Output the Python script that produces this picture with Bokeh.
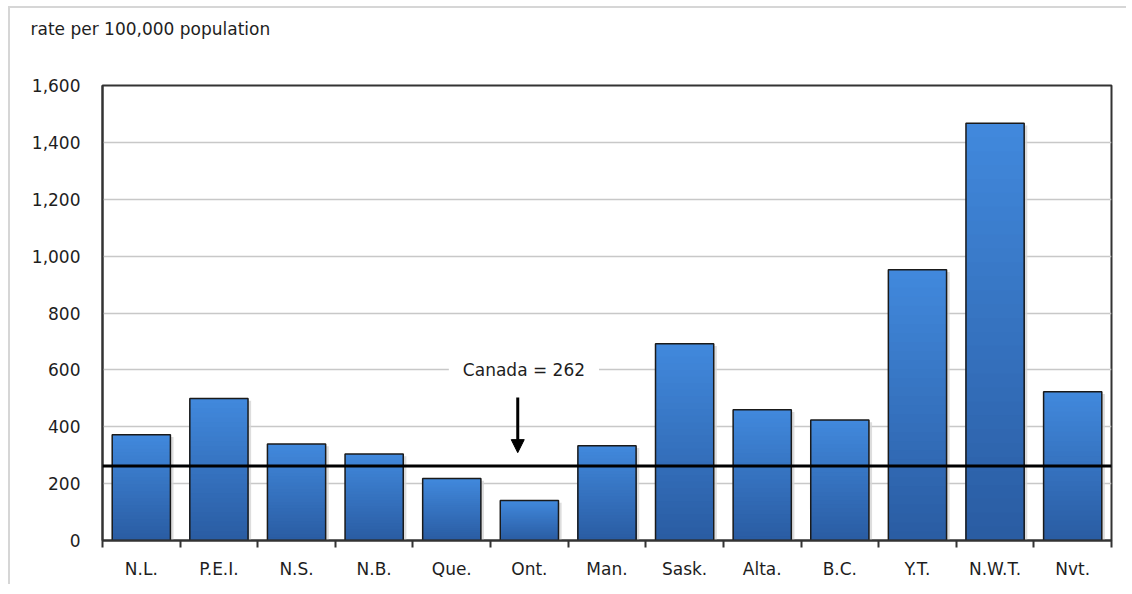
from bokeh.plotting import figure
from bokeh.models import (ColumnDataSource, FixedTicker, NumeralTickFormatter, Span,
                          Label, Arrow, NormalHead, Range1d, Title)
from bokeh.embed import file_html
from bokeh.resources import INLINE

# ---- data ----
provinces = ["N.L.", "P.E.I.", "N.S.", "N.B.", "Que.", "Ont.", "Man.", "Sask.",
             "Alta.", "B.C.", "Y.T.", "N.W.T.", "Nvt."]
rates = [372, 499, 339, 304, 218, 141, 333, 692, 460, 424, 952, 1467, 523]
canada_rate = 262
canada_label = "Canada = 262"
y_title = "rate per 100,000 population"
y_ticks = [0, 200, 400, 600, 800, 1000, 1200, 1400, 1600]

FONT = "DejaVu Sans"
TXT = "#1e1e1e"
n = len(provinces)
centers = [i + 0.5 for i in range(n)]

p = figure(width=1118, height=578, output_backend="svg", toolbar_location=None,
           x_range=Range1d(0, n), y_range=Range1d(0, 1600),
           min_border_left=92, min_border_right=17, min_border_top=0, min_border_bottom=46)
p.styles = {"border-top": "2px solid #d6d6d6", "border-left": "2px solid #d6d6d6",
            "margin-left": "8px", "margin-top": "6px"}
p.outline_line_color = "#333333"
p.outline_line_width = 2
p.background_fill_color = "white"
p.border_fill_color = "white"

# spacer between frame and title
p.add_layout(Title(text=" ", text_font_size="1px", standoff=36), "above")

# title
p.title.text = y_title
p.title.align = "left"
p.title.offset = -72
p.title.standoff = 16
p.title.text_font = FONT
p.title.text_font_size = "17px"
p.title.text_font_style = "normal"
p.title.text_color = TXT

# grid
p.xgrid.visible = False
p.ygrid.grid_line_color = "#c8c8c8"
p.ygrid.grid_line_width = 1.5

# gradient bars (drawn as nested rectangles, top colour first)
def lerp(c1, c2, t):
    return "#%02x%02x%02x" % tuple(int(round(a + (b - a) * t)) for a, b in zip(c1, c2))

top_c = (0x41, 0x88, 0xdc)
bot_c = (0x2a, 0x5d, 0xa3)
nseg = 30
xs, tops, cols = [], [], []
for k in range(nseg - 1, -1, -1):
    t = k / (nseg - 1)
    col = lerp(bot_c, top_c, t)
    for c, v in zip(centers, rates):
        xs.append(c)
        tops.append(v * (k + 1) / nseg)
        cols.append(col)

shadow = ColumnDataSource(dict(x=[c + 0.04 for c in centers], top=[v - 8 for v in rates]))
p.vbar(x="x", top="top", bottom=0, width=0.75, source=shadow,
       fill_color="#d4d4d4", fill_alpha=0.8, line_color=None)

seg = ColumnDataSource(dict(x=xs, top=tops, color=cols))
p.vbar(x="x", top="top", bottom=0, width=0.75, source=seg,
       fill_color="color", line_color=None)

bars = ColumnDataSource(dict(x=centers, top=rates, name=provinces))
p.vbar(x="x", top="top", bottom=0, width=0.75, source=bars,
       fill_color=None, line_color="#1a1a1a", line_width=1.5)

# Canada reference line
p.add_layout(Span(location=canada_rate, dimension="width", line_color="black", line_width=3))

lab = Label(x=5.43, y=600, text=canada_label, text_align="center", text_baseline="middle",
            text_font=FONT, text_font_size="17px", text_color=TXT,
            background_fill_color="white", padding=14)
p.add_layout(lab)
p.add_layout(Arrow(x_start=5.35, y_start=503, x_end=5.35, y_end=309,
                   line_color="black", line_width=3,
                   end=NormalHead(size=13, fill_color="black", line_color="black")))

# axes
xa = p.xaxis[0]
xa.ticker = FixedTicker(ticks=centers, minor_ticks=list(range(n + 1)))
xa.major_label_overrides = {c: name for c, name in zip(centers, provinces)}
xa.major_tick_out = 0
xa.major_tick_in = 0
xa.minor_tick_out = 7
xa.minor_tick_in = 0
xa.minor_tick_line_color = "#333333"
xa.minor_tick_line_width = 2
xa.axis_line_color = "#333333"
xa.axis_line_width = 2
xa.major_label_standoff = 11
xa.major_label_text_font = FONT
xa.major_label_text_font_size = "17px"
xa.major_label_text_color = TXT

ya = p.yaxis[0]
ya.ticker = FixedTicker(ticks=y_ticks)
ya.formatter = NumeralTickFormatter(format="0,0")
ya.major_tick_out = 0
ya.major_tick_in = 0
ya.minor_tick_line_color = None
ya.axis_line_color = "#333333"
ya.axis_line_width = 2
ya.major_label_standoff = 22
ya.major_label_text_font = FONT
ya.major_label_text_font_size = "17px"
ya.major_label_text_color = TXT

open("out.html", "w").write(file_html(p, INLINE))
